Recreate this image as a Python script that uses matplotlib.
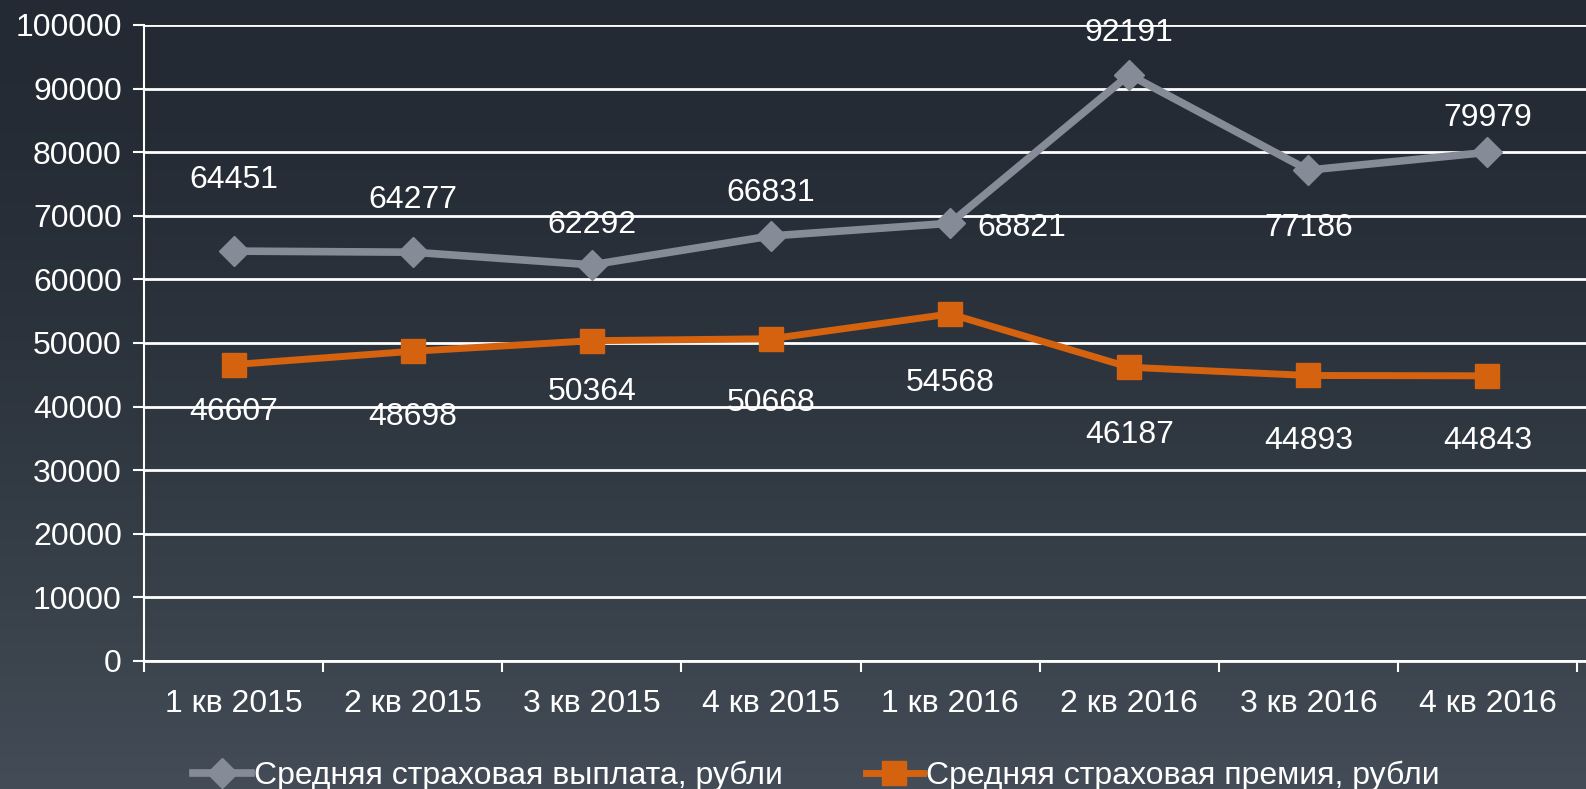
import numpy as np
import matplotlib.pyplot as plt

plt.rcParams['font.family'] = ['Liberation Sans', 'DejaVu Sans']

# данные
quarters = ["1 кв 2015", "2 кв 2015", "3 кв 2015", "4 кв 2015",
            "1 кв 2016", "2 кв 2016", "3 кв 2016", "4 кв 2016"]
payout = [64451, 64277, 62292, 66831, 68821, 92191, 77186, 79979]
premium = [46607, 48698, 50364, 50668, 54568, 46187, 44893, 44843]
payout_name = "Средняя страховая выплата, рубли"
premium_name = "Средняя страховая премия, рубли"

# смещения подписей (в пикселях)
payout_off = [(0, 71), (0, 52), (0, 40), (0, 43), (72, -5), (0, 42), (0, -58), (0, 34)]
premium_off = [(0, -47), (0, -66), (0, -51), (0, -64), (0, -69), (0, -68), (0, -66), (0, -65)]

fig = plt.figure(figsize=(15.86, 7.89), dpi=100)

# градиентный фон
bg = fig.add_axes([0, 0, 1, 1], zorder=-10)
grad = np.linspace(0, 1, 256).reshape(-1, 1)
top = np.array([0x23, 0x2a, 0x33]) / 255.0
bottom = np.array([0x44, 0x4d, 0x57]) / 255.0
img = top + (bottom - top) * grad[:, :, None] ** 1.6
bg.imshow(img, aspect='auto', extent=[0, 1, 0, 1])
bg.axis('off')

ax = fig.add_axes([144 / 1586, 1 - 661 / 789, 1 - 144 / 1586, (661 - 25) / 789])
ax.patch.set_alpha(0)

x = np.arange(len(quarters))
ax.plot(x, payout, color='#858c98', lw=5.5, marker='D', ms=15,
        label=payout_name, zorder=3)
ax.plot(x, premium, color='#d4620f', lw=5, marker='s', ms=17,
        label=premium_name, zorder=3)

for i in range(len(x)):
    ax.annotate(str(payout[i]), (x[i], payout[i]), xytext=payout_off[i],
                textcoords='offset pixels', ha='center', va='center',
                color='white', fontsize=23, zorder=4)
    ax.annotate(str(premium[i]), (x[i], premium[i]), xytext=premium_off[i],
                textcoords='offset pixels', ha='center', va='center',
                color='white', fontsize=23, zorder=4)

ax.set_ylim(0, 100000)
ax.set_yticks(np.arange(0, 100001, 10000))
ax.set_xlim(-0.5, 7.55)
ax.set_xticks(x)
ax.set_xticklabels(quarters)
ax.set_xticks(np.arange(-0.5, 8, 1), minor=True)
ax.grid(axis='y', color='white', lw=2)
ax.set_axisbelow(True)

for s in ['top', 'right']:
    ax.spines[s].set_visible(False)
ax.spines['left'].set_color('white')
ax.spines['bottom'].set_color('white')
ax.spines['left'].set_linewidth(1.5)
ax.spines['bottom'].set_linewidth(2)

ax.tick_params(axis='y', colors='white', labelsize=23, length=8, width=1.5, pad=8)
ax.tick_params(axis='x', which='major', colors='white', labelsize=23, length=0, pad=20)
ax.tick_params(axis='x', which='minor', colors='white', length=8, width=1.5, direction='out')

fig.legend(loc='lower left', bbox_to_anchor=(193 / 1586, -0.003), ncol=2,
           frameon=False, fontsize=23, labelcolor='white', handlelength=1.8,
           handletextpad=0.1, columnspacing=2.6, borderaxespad=0, borderpad=0)

fig.savefig('out.png', dpi=100)
